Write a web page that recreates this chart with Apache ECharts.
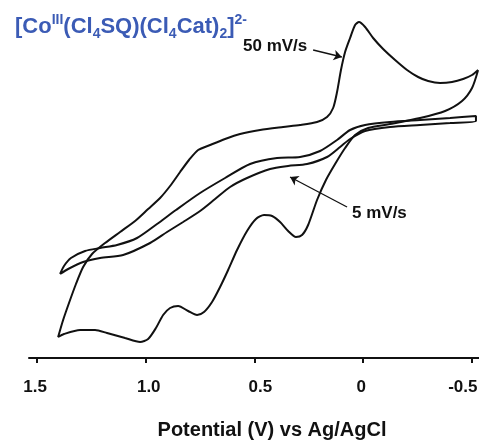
<!DOCTYPE html>
<html><head><meta charset="utf-8">
<script src="https://cdn.jsdelivr.net/npm/echarts@6/dist/echarts.min.js"></script>
<style>html,body{margin:0;padding:0;background:#fff}#c{width:479px;height:441px}</style>
</head><body><div id="c"></div>
<script>
// Tick values / labels (Potential, V vs Ag/AgCl)
const tickValues = [1.5, 1.0, 0.5, 0, -0.5];
const tickLabels = ['1.5', '1.0', '0.5', '0', '-0.5'];

// 50 mV/s cyclic voltammogram (potential V, current arb. units)
const E50 = [-0.529, -0.501, -0.460, -0.409, -0.354, -0.299, -0.253, -0.202, -0.147, -0.092, -0.046, -0.009, 0.019, 0.037, 0.060, 0.083, 0.102, 0.120, 0.138, 0.166, 0.212, 0.290, 0.368, 0.474, 0.566, 0.635, 0.704, 0.759, 0.801, 0.842, 0.888, 0.934, 0.989, 1.049, 1.118, 1.187, 1.247, 1.288, 1.321, 1.353, 1.380, 1.403,
  1.376, 1.302, 1.233, 1.178, 1.095, 1.026, 0.989, 0.953, 0.920, 0.888, 0.851, 0.805, 0.764, 0.732, 0.695, 0.658, 0.621, 0.580, 0.534, 0.493, 0.456, 0.419, 0.382, 0.345, 0.309, 0.281, 0.253, 0.212, 0.171, 0.129, 0.083, 0.037, -0.023, -0.124, -0.262, -0.377, -0.455, -0.501, -0.529];
const I50 = [28.8, 28.3, 27.9, 27.6, 27.5, 27.7, 28.1, 28.8, 29.8, 30.9, 32.0, 33.1, 33.6, 33.3, 32.0, 30.6, 28.8, 26.6, 25.0, 24.1, 23.6, 23.3, 23.1, 22.8, 22.4, 21.9, 21.3, 20.8, 19.8, 18.6, 17.2, 16.0, 14.9, 13.7, 12.6, 11.5, 10.4, 9.1, 7.4, 5.5, 3.8, 2.1,
  2.4, 2.8, 2.8, 2.5, 2.0, 1.6, 1.9, 3.0, 4.3, 5.0, 5.2, 4.7, 4.3, 4.6, 5.6, 7.1, 8.8, 10.8, 12.7, 13.9, 14.3, 14.2, 13.6, 12.7, 12.1, 12.3, 13.3, 15.8, 17.8, 19.4, 21.0, 22.3, 23.0, 23.4, 24.0, 24.7, 25.7, 27.0, 28.8];

// 5 mV/s cyclic voltammogram
const E5 = [1.394, 1.376, 1.344, 1.279, 1.210, 1.132, 1.040, 0.948, 0.861, 0.750, 0.635, 0.520, 0.396, 0.290, 0.198, 0.120, 0.060, -0.009, -0.124, -0.262, -0.400, -0.519,
  -0.519, -0.400, -0.262, -0.124, -0.009, 0.060, 0.106, 0.166, 0.258, 0.345, 0.428, 0.534, 0.612, 0.681, 0.750, 0.828, 0.902, 0.980, 1.104, 1.210, 1.288, 1.357, 1.394];
const I5 = [8.4, 9.2, 10.0, 10.7, 11.0, 11.3, 12.0, 13.4, 14.8, 16.5, 18.0, 19.4, 20.0, 20.1, 20.7, 21.8, 22.8, 23.3, 23.6, 23.8, 24.0, 24.2,
  23.7, 23.5, 23.3, 23.1, 22.7, 21.9, 21.1, 20.1, 19.4, 19.2, 18.9, 18.0, 17.1, 15.9, 14.7, 13.6, 12.6, 11.5, 10.3, 10.0, 9.6, 8.9, 8.4];

// annotation arrows [fromE, fromI, toE, toI]
const arrow50 = [0.230, 30.8, 0.098, 30.1];
const arrow5 = [0.074, 15.1, 0.336, 18.1];

const labelShift = {'1.5': -2, '1.0': 3, '0.5': 6, '0': -2, '-0.5': -9};
const rich = {};
tickLabels.forEach((t, k) => {
  const d = labelShift[t];
  rich['t' + k] = {fontSize: 17, fontWeight: 'bold', color: '#111', fontFamily: 'Liberation Sans, Arial, sans-serif',
    padding: d >= 0 ? [0, 0, 0, 2 * d] : [0, -2 * d, 0, 0]};
});

const chart = echarts.init(document.getElementById('c'));
const lineStyle = {color: '#111', width: 2};
const FF = 'Liberation Sans, Arial, sans-serif';
chart.setOption({
  animation: false,
  backgroundColor: '#fff',
  title: {
    text: '{m|[Co}{sup|III}{m|(Cl}{sub|4}{m|SQ)(Cl}{sub|4}{m|Cat)}{sub|2}{m|]}{sup|2-}',
    left: 10, top: 8,
    textStyle: {
      rich: {
        m: {fontSize: 22, fontWeight: 'bold', color: '#3b5bb5', fontFamily: FF, lineHeight: 28, verticalAlign: 'middle'},
        sup: {fontSize: 14, fontWeight: 'bold', color: '#3b5bb5', fontFamily: FF, lineHeight: 14, verticalAlign: 'top'},
        sub: {fontSize: 14, fontWeight: 'bold', color: '#3b5bb5', fontFamily: FF, lineHeight: 14, verticalAlign: 'bottom'}
      }
    }
  },
  grid: {left: 29, right: 0, top: 20, bottom: 83, containLabel: false, outerBoundsMode: 'none'},
  xAxis: {
    type: 'value', inverse: true, min: -0.533, max: 1.537,
    name: 'Potential (V) vs Ag/AgCl', nameLocation: 'middle', nameGap: 62,
    nameTextStyle: {fontSize: 20, fontWeight: 'bold', color: '#111', fontFamily: FF, padding: [0, 0, 0, 36]},
    axisLine: {show: true, onZero: false, lineStyle: {color: '#111', width: 2}},
    axisTick: {show: true, length: 5, inside: false, customValues: tickValues, lineStyle: {color: '#111', width: 2}},
    axisLabel: {show: true, margin: 21, customValues: tickValues,
      formatter: v => { const k = tickValues.findIndex(t => Math.abs(t - v) < 1e-6); return k < 0 ? '' : '{t' + k + '|' + tickLabels[k] + '}'; },
      rich: rich},
    splitLine: {show: false}
  },
  yAxis: {type: 'value', min: 0, max: 33.8, show: false, splitLine: {show: false}},
  graphic: [
    {type: 'text', left: 243, top: 38, style: {text: '50 mV/s', font: 'bold 17px "Liberation Sans", Arial, sans-serif', fill: '#111'}},
    {type: 'text', left: 352, top: 205, style: {text: '5 mV/s', font: 'bold 17px "Liberation Sans", Arial, sans-serif', fill: '#111'}}
  ],
  series: [
    {name: '50 mV/s', type: 'line', data: E50.map((e, i) => [e, I50[i]]), showSymbol: false, smooth: 0.25, clip: false, lineStyle: lineStyle},
    {name: '5 mV/s', type: 'line', data: E5.map((e, i) => [e, I5[i]]), showSymbol: false, smooth: 0.25, clip: false, lineStyle: lineStyle},
    {name: 'arrows', type: 'line', data: [], markLine: {
      silent: true, symbol: ['none', 'arrow'], symbolSize: 8, label: {show: false},
      lineStyle: {color: '#111', width: 1.3, type: 'solid'},
      data: [
        [{coord: [arrow50[0], arrow50[1]]}, {coord: [arrow50[2], arrow50[3]]}],
        [{coord: [arrow5[0], arrow5[1]]}, {coord: [arrow5[2], arrow5[3]]}]
      ]}}
  ]
});
</script>
</body></html>
